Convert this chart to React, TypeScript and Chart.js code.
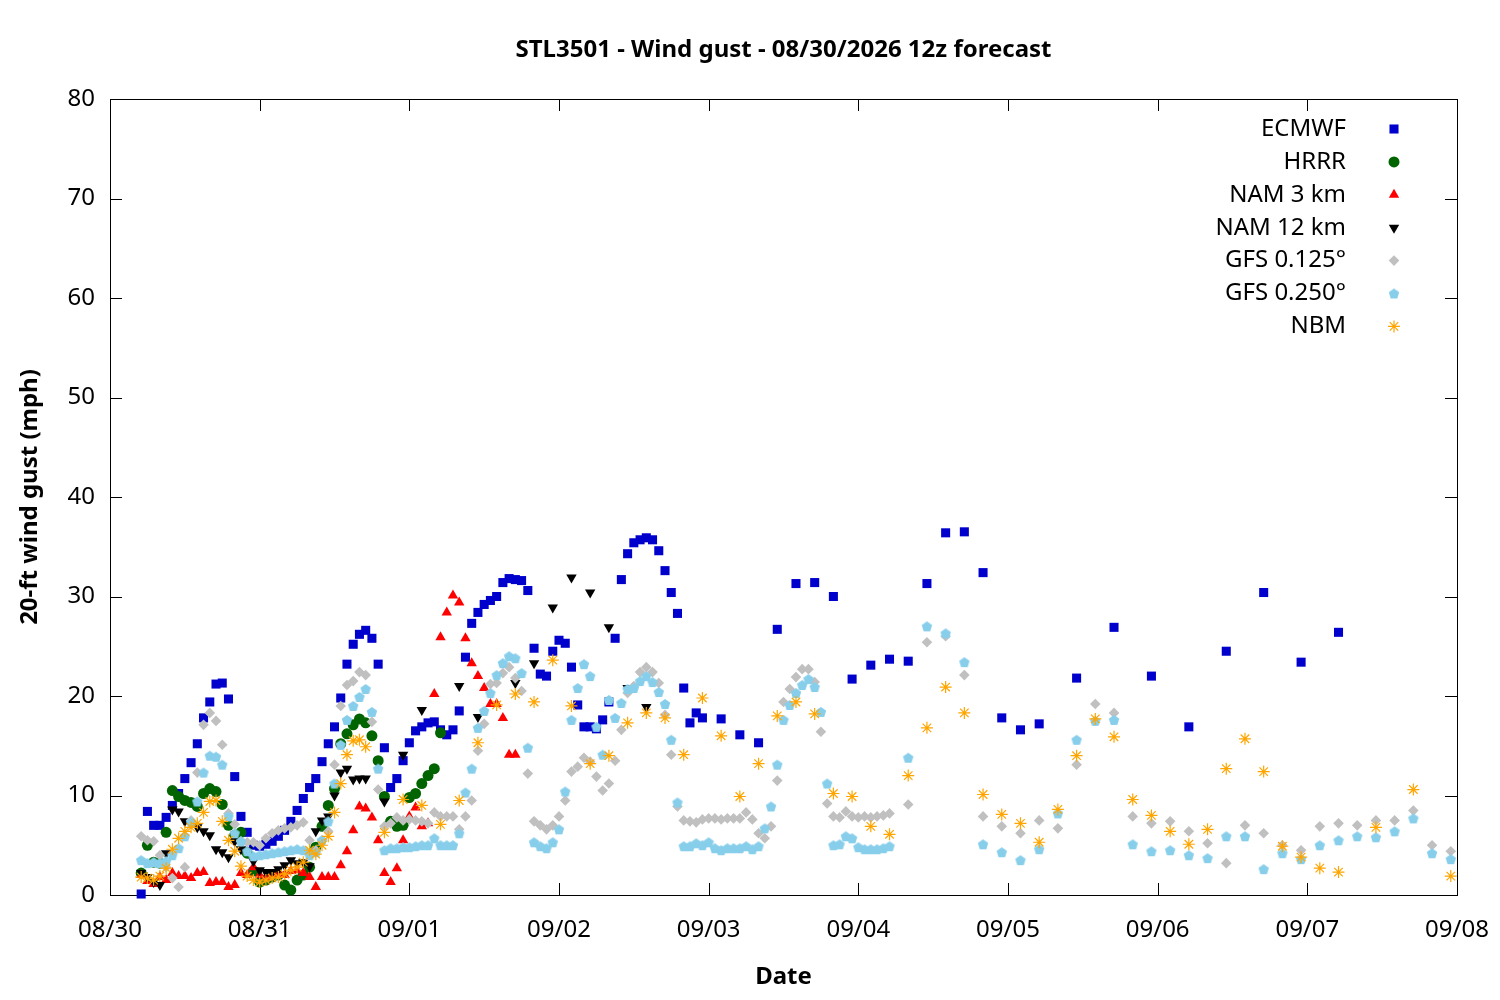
import React, { useEffect, useRef } from "react";
import { Chart, registerables } from "chart.js";
import { drawPoint } from "chart.js/helpers";

Chart.register(...registerables);

// x axis is hours after 08/30 00:00, one tick per day
const dateLabels = ["08/30", "08/31", "09/01", "09/02", "09/03", "09/04", "09/05", "09/06", "09/07", "09/08"];
const seriesNames = ["ECMWF", "HRRR", "NAM 3 km", "NAM 12 km", "GFS 0.125°", "GFS 0.250°", "NBM"];

// ECMWF: hourly 5..95, 3-hourly 98..149, 6-hourly 155..197
const ecmwfHourly = [
  0.1, 8.4, 7.0, 7.0, 7.8, 9.0, 10.2, 11.7, 13.3, 15.2,
  17.8, 19.4, 21.2, 21.3, 19.7, 11.9, 7.9, 6.3, 5.0, 4.9,
  5.1, 5.4, 5.9, 6.5, 7.4, 8.5, 9.7, 10.8, 11.7, 13.4,
  15.2, 16.9, 19.8, 23.2, 25.2, 26.2, 26.6, 25.8, 23.2, 14.8,
  10.8, 11.7, 13.5, 15.3, 16.5, 16.9, 17.3, 17.4, 16.6, 16.1,
  16.6, 18.5, 23.9, 27.3, 28.4, 29.2, 29.6, 30.0, 31.4, 31.8,
  31.7, 31.6, 30.6, 24.8, 22.2, 22.0, 24.5, 25.6, 25.3, 22.9,
  19.1, 16.9, 16.9, 16.7, 17.6, 19.4, 25.8, 31.7, 34.3, 35.4,
  35.7, 35.9, 35.7, 34.6, 32.6, 30.4, 28.3, 20.8, 17.3, 18.3,
  17.8,
];
const ecmwf3h = [17.7, 16.1, 15.3, 26.7, 31.3, 31.4, 30.0, 21.7, 23.1, 23.7, 23.5, 31.3, 36.4, 36.5, 32.4, 17.8, 16.6, 17.2];
const ecmwf6h = [21.8, 26.9, 22.0, 16.9, 24.5, 30.4, 23.4, 26.4];

// HRRR: hourly 5..53
const hrrrHourly = [
  2.2, 5.0, 3.3, 3.2, 6.3, 10.5, 9.9, 9.5, 9.3, 8.9,
  10.2, 10.7, 10.4, 9.1, 7.0, 6.0, 6.3, 4.2, 2.4, 1.3,
  1.5, 1.8, 2.0, 1.0, 0.5, 1.5, 2.0, 2.8, 4.8, 6.9,
  9.0, 10.7, 15.2, 16.2, 17.1, 17.7, 17.3, 16.0, 13.5, 9.9,
  7.4, 6.9, 7.0, 9.8, 10.2, 11.2, 12.0, 12.7, 16.3,
];

// NAM 3 km: hourly 5..65
const nam3Hourly = [
  2.0, 1.4, 1.1, 1.8, 1.5, 2.2, 1.9, 1.9, 1.7, 2.2,
  2.3, 1.2, 1.3, 1.3, 0.8, 1.0, 2.2, 2.0, 2.8, 2.0,
  1.8, 2.0, 2.2, 2.0, 2.4, 2.5, 2.2, 1.8, 0.8, 1.8,
  1.8, 1.8, 3.0, 4.4, 6.5, 8.9, 8.7, 7.8, 5.5, 2.2,
  1.3, 2.7, 5.5, 7.9, 8.8, 6.9, 7.2, 20.2, 25.9, 28.4,
  30.1, 29.4, 25.8, 23.3, 22.0, 20.8, 19.2, 19.2, 17.8, 14.1, 14.1,
];

// NAM 12 km: hourly 5..41, then 3-hourly
const nam12Hourly = [
  2.2, 1.8, 1.3, 1.0, 4.2, 8.6, 8.4, 7.4, 7.2, 6.8,
  6.4, 6.0, 4.6, 4.3, 3.8, 5.4, 4.6, 4.5, 3.4, 2.5,
  2.3, 2.3, 2.6, 3.0, 3.5, 3.2, 3.3, 2.9, 6.4, 7.5,
  7.9, 10.0, 12.3, 12.7, 11.6, 11.7, 11.7,
];
const nam12Hours3h = [44, 47, 50, 56, 59, 65, 68, 71, 74, 77, 80, 83, 86];
const nam12Gust3h = [9.4, 14.1, 18.6, 21.0, 17.9, 21.3, 23.3, 28.9, 31.9, 30.4, 26.9, 20.8, 18.9];

// GFS 0.125: hourly 5..125, 3-hourly 128..215
const gfs125Hourly = [
  5.9, 5.5, 5.4, 4.0, 2.8, 1.7, 0.8, 2.8, 7.5, 12.3,
  17.1, 18.3, 17.5, 15.1, 8.2, 7.1, 5.4, 5.3, 5.3, 5.0,
  5.7, 6.2, 6.5, 6.7, 6.8, 7.0, 7.3, 5.5, 4.5, 5.5,
  6.4, 13.1, 19.0, 21.1, 21.5, 22.4, 22.1, 17.4, 10.6, 6.9,
  7.2, 7.8, 7.5, 7.6, 7.5, 7.4, 7.2, 8.3, 7.9, 7.9,
  7.9, 6.6, 7.9, 9.5, 14.5, 17.2, 21.2, 21.3, 22.3, 22.9,
  21.8, 20.5, 12.2, 7.4, 7.0, 6.6, 7.0, 7.9, 9.5, 12.4,
  12.9, 13.8, 13.4, 11.9, 10.5, 11.2, 13.5, 16.6, 20.3, 21.0,
  22.4, 22.9, 22.4, 21.3, 18.1, 14.1, 8.9, 7.5, 7.4, 7.3,
  7.6, 7.7, 7.7, 7.6, 7.7, 7.7, 7.7, 8.3, 7.6, 6.2,
  5.7, 6.9, 11.5, 19.4, 20.7, 21.9, 22.7, 22.7, 21.4, 16.4,
  9.2, 7.9, 7.8, 8.4, 7.9, 7.8, 7.9, 7.8, 7.9, 8.0,
  8.2,
];
const gfs125ThreeHourly = [
  9.1, 25.4, 26.0, 22.1, 7.9, 6.9, 6.2, 7.5, 6.7, 13.1,
  19.2, 18.3, 7.9, 7.2, 7.4, 6.4, 5.2, 3.2, 7.0, 6.2,
  5.0, 4.5, 6.9, 7.2, 7.0, 7.5, 7.5, 8.5, 5.0, 4.4,
];

// GFS 0.250: hourly 5..125, 3-hourly 128..215
const gfs250Hourly = [
  3.5, 3.2, 3.3, 3.2, 3.4, 4.0, 4.7, 5.9, 7.3, 9.4,
  12.3, 14.0, 13.9, 13.1, 7.9, 6.2, 5.4, 4.4, 3.9, 4.0,
  4.1, 4.2, 4.3, 4.4, 4.5, 4.6, 4.5, 4.0, 4.3, 5.5,
  7.4, 11.2, 15.1, 17.6, 19.0, 19.9, 20.7, 18.4, 12.7, 4.5,
  4.7, 4.7, 4.8, 4.8, 4.9, 5.0, 5.0, 5.7, 5.0, 5.0,
  5.0, 6.2, 10.3, 12.7, 16.8, 18.5, 20.3, 22.1, 23.3, 24.0,
  23.8, 22.3, 14.8, 5.3, 4.9, 4.7, 5.3, 6.6, 10.4, 17.6,
  20.8, 23.2, 22.0, 16.9, 14.1, 19.6, 17.8, 19.3, 20.7, 20.8,
  21.5, 22.0, 21.4, 20.4, 19.2, 15.6, 9.3, 4.9, 4.9, 5.2,
  5.0, 5.3, 4.7, 4.5, 4.7, 4.7, 4.7, 4.9, 4.6, 4.9,
  6.7, 8.9, 13.1, 17.6, 19.1, 20.3, 21.1, 21.7, 20.9, 18.4,
  11.2, 5.0, 5.1, 5.9, 5.7, 4.8, 4.6, 4.6, 4.6, 4.7,
  4.9,
];
const gfs250ThreeHourly = [
  13.8, 27.0, 26.3, 23.4, 5.1, 4.3, 3.5, 4.6, 8.2, 15.6,
  17.5, 17.6, 5.1, 4.4, 4.5, 4.0, 3.7, 5.9, 5.9, 2.6,
  4.2, 3.6, 5.0, 5.5, 5.9, 5.8, 6.4, 7.7, 4.2, 3.6,
];

// NBM: hourly 5..41, 3-hourly 44..197, 6-hourly 203..215
const nbmHourly = [
  1.8, 1.7, 1.5, 1.9, 2.7, 4.6, 5.7, 6.4, 6.8, 7.2,
  8.3, 9.4, 9.5, 7.4, 5.5, 4.4, 2.9, 1.9, 1.5, 1.3,
  1.5, 1.7, 1.8, 2.1, 2.5, 2.8, 3.3, 4.5, 4.1, 5.0,
  5.9, 8.3, 11.2, 14.1, 15.5, 15.6, 14.9,
];
const nbm3h = [
  6.3, 9.6, 9.0, 7.1, 9.5, 15.3, 19.1, 20.2, 19.4, 23.6,
  19.0, 13.2, 14.0, 17.3, 18.3, 17.8, 14.1, 19.8, 16.0, 9.9,
  13.2, 18.0, 19.4, 18.2, 10.2, 9.9, 6.9, 6.1, 12.0, 16.8,
  20.9, 18.3, 10.1, 8.1, 7.2, 5.3, 8.6, 14.0, 17.7, 15.9,
  9.6, 8.0, 6.4, 5.1, 6.6, 12.7, 15.7, 12.4, 4.9, 3.8,
  2.7, 2.3,
];
const nbm6h = [6.8, 10.6, 1.9];

const pts = (start: number, step: number, values: number[]) =>
  values.map((y, i) => ({ x: start + i * step, y }));

const FONT = '"Noto Sans", sans-serif';
const FONT_SIZE = 24;

function makePentagon(color: string, r: number) {
  const size = 14;
  const c = document.createElement("canvas");
  c.width = size;
  c.height = size;
  const ctx = c.getContext("2d")!;
  ctx.fillStyle = color;
  ctx.beginPath();
  for (let i = 0; i < 5; i++) {
    const a = -Math.PI / 2 + (i * 2 * Math.PI) / 5;
    const px = size / 2 + r * Math.cos(a);
    const py = size / 2 + r * Math.sin(a) + 0.5;
    if (i === 0) ctx.moveTo(px, py);
    else ctx.lineTo(px, py);
  }
  ctx.closePath();
  ctx.fill();
  return c;
}

const framePlugin = {
  id: "frame",
  beforeDatasetsDraw(chart: any) {
    const { ctx, chartArea: a } = chart;
    const xs = chart.scales.x;
    const ys = chart.scales.y;
    const tl = 12;
    ctx.save();
    ctx.strokeStyle = "#000";
    ctx.lineWidth = 1;
    ctx.strokeRect(Math.round(a.left) + 0.5, Math.round(a.top) + 0.5, Math.round(a.right - a.left), Math.round(a.bottom - a.top));
    ctx.beginPath();
    xs.ticks.forEach((t: any) => {
      const px = Math.round(xs.getPixelForValue(t.value)) + 0.5;
      ctx.moveTo(px, a.bottom);
      ctx.lineTo(px, a.bottom - tl);
      ctx.moveTo(px, a.top);
      ctx.lineTo(px, a.top + tl);
    });
    ys.ticks.forEach((t: any) => {
      const py = Math.round(ys.getPixelForValue(t.value)) + 0.5;
      ctx.moveTo(a.left, py);
      ctx.lineTo(a.left + tl, py);
      ctx.moveTo(a.right, py);
      ctx.lineTo(a.right - tl, py);
    });
    ctx.stroke();
    ctx.restore();
  },
  afterDraw(chart: any) {
    const { ctx, chartArea: a } = chart;
    const cx = (a.left + a.right) / 2;
    ctx.save();
    ctx.fillStyle = "#000";
    ctx.textBaseline = "middle";
    ctx.textAlign = "center";
    ctx.font = `bold ${FONT_SIZE}px ${FONT}`;
    ctx.fillText("STL3501 - Wind gust - 08/30/2026 12z forecast", cx, 50);
    ctx.fillText("Date", cx, 977);
    ctx.save();
    ctx.translate(30, (a.top + a.bottom) / 2);
    ctx.rotate(-Math.PI / 2);
    ctx.fillText("20-ft wind gust (mph)", 0, 0);
    ctx.restore();

    // key, top right inside the plot
    ctx.font = `${FONT_SIZE}px ${FONT}`;
    ctx.textAlign = "right";
    chart.data.datasets.forEach((ds: any, i: number) => {
      const y = 129 + i * 32.9;
      ctx.fillStyle = "#000";
      ctx.fillText(ds.label, 1346, y);
      ctx.fillStyle = ds.backgroundColor;
      ctx.strokeStyle = ds.borderColor;
      ctx.lineWidth = ds.borderWidth;
      drawPoint(ctx, { pointStyle: ds.pointStyle, rotation: ds.rotation || 0, radius: ds.pointRadius, borderWidth: ds.borderWidth }, 1394, y);
    });
    ctx.restore();
  },
};

const App: React.FC = () => {
  const chartRef = useRef<HTMLCanvasElement>(null);

  useEffect(() => {
    if (!chartRef.current) return;
    const pentagon = makePentagon("#87ceeb", 5.5);
    const base = { showLine: false, clip: false as any };
    const chart = new Chart(chartRef.current, {
      type: "scatter",
      data: {
        datasets: [
          {
            ...base,
            label: seriesNames[0],
            data: [...pts(5, 1, ecmwfHourly), ...pts(98, 3, ecmwf3h), ...pts(155, 6, ecmwf6h)],
            pointStyle: "rect",
            pointRadius: 6.4,
            backgroundColor: "#0000cd",
            borderColor: "#0000cd",
            borderWidth: 0,
            order: 7,
          },
          {
            ...base,
            label: seriesNames[1],
            data: pts(5, 1, hrrrHourly),
            pointStyle: "circle",
            pointRadius: 5.5,
            backgroundColor: "#006400",
            borderColor: "#006400",
            borderWidth: 0,
            order: 6,
          },
          {
            ...base,
            label: seriesNames[2],
            data: pts(5, 1, nam3Hourly),
            pointStyle: "triangle",
            pointRadius: 6,
            backgroundColor: "#ff0000",
            borderColor: "#ff0000",
            borderWidth: 0,
            order: 5,
          },
          {
            ...base,
            label: seriesNames[3],
            data: [...pts(5, 1, nam12Hourly), ...nam12Hours3h.map((h, i) => ({ x: h, y: nam12Gust3h[i] }))],
            pointStyle: "triangle",
            rotation: 180,
            pointRadius: 6,
            backgroundColor: "#000000",
            borderColor: "#000000",
            borderWidth: 0,
            order: 4,
          },
          {
            ...base,
            label: seriesNames[4],
            data: [...pts(5, 1, gfs125Hourly), ...pts(128, 3, gfs125ThreeHourly)],
            pointStyle: "rectRot",
            pointRadius: 5.3,
            backgroundColor: "#c0c0c0",
            borderColor: "#c0c0c0",
            borderWidth: 0,
            order: 3,
          },
          {
            ...base,
            label: seriesNames[5],
            data: [...pts(5, 1, gfs250Hourly), ...pts(128, 3, gfs250ThreeHourly)],
            pointStyle: pentagon,
            pointRadius: 5.5,
            backgroundColor: "#87ceeb",
            borderColor: "#87ceeb",
            borderWidth: 0,
            order: 2,
          },
          {
            ...base,
            label: seriesNames[6],
            data: [...pts(5, 1, nbmHourly), ...pts(44, 3, nbm3h), ...pts(203, 6, nbm6h)],
            pointStyle: "star",
            pointRadius: 6,
            backgroundColor: "#ffa500",
            borderColor: "#ffa500",
            borderWidth: 1.2,
            order: 1,
          },
        ] as any,
      },
      options: {
        responsive: false,
        animation: false,
        events: [],
        layout: { padding: { top: 99, right: 43, left: 0, bottom: 0 } },
        plugins: {
          legend: { display: false },
          title: { display: false },
          tooltip: { enabled: false },
        },
        scales: {
          x: {
            type: "linear",
            min: 0,
            max: 216,
            grid: { display: false, drawTicks: false },
            border: { display: false },
            afterFit: (s: any) => {
              s.height = 105;
              s.paddingLeft = 0;
              s.paddingRight = 0;
            },
            ticks: {
              stepSize: 24,
              autoSkip: false,
              maxRotation: 0,
              padding: 21,
              color: "#000",
              font: { family: FONT, size: FONT_SIZE },
              callback: (v: any) => dateLabels[Math.round(Number(v) / 24)],
            },
          },
          y: {
            type: "linear",
            min: 0,
            max: 80,
            grid: { display: false, drawTicks: false },
            border: { display: false },
            afterFit: (s: any) => {
              s.width = 110;
              s.paddingTop = 0;
              s.paddingBottom = 0;
            },
            ticks: {
              stepSize: 10,
              padding: 15,
              color: "#000",
              font: { family: FONT, size: FONT_SIZE },
            },
          },
        },
      },
      plugins: [framePlugin],
    });
    return () => {
      chart.destroy();
    };
  }, []);

  return (
    <div style={{ position: "fixed", left: 0, top: 0, width: 1500, height: 1000, background: "#fff" }}>
      <canvas ref={chartRef} width={1500} height={1000} style={{ width: 1500, height: 1000 }} />
    </div>
  );
};

export default App;
